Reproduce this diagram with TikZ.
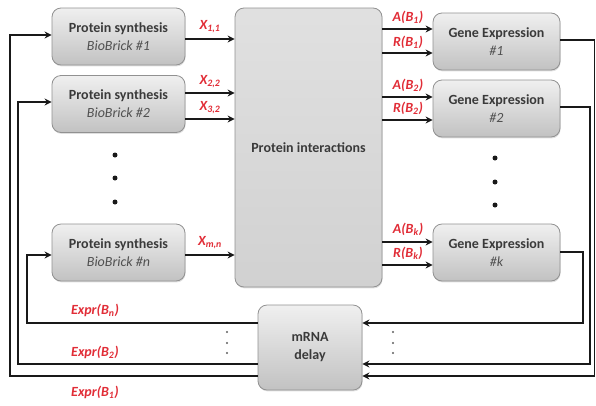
\documentclass[tikz,border=0pt]{standalone}
\usepackage{fontspec}
\setmainfont{Carlito}
\usetikzlibrary{arrows.meta,shadows}
\definecolor{lbl}{RGB}{225,45,55}
\definecolor{txt}{RGB}{58,58,58}
\definecolor{txtb}{RGB}{80,80,80}
\definecolor{edge}{RGB}{145,145,145}
\definecolor{ln}{RGB}{25,25,25}
\begin{document}
\begin{tikzpicture}[x=1pt,y=-1pt,
  box/.style={draw=edge, line width=0.8pt, rounded corners=9pt,
    top color=white!94!black, bottom color=white!76!black,
    align=center, text=txt, inner sep=0pt,
    font=\fontsize{14}{18}\selectfont\bfseries,
    drop shadow={shadow xshift=0.6pt, shadow yshift=-1.4pt, opacity=0.25}},
  psbox/.style={box, minimum width=133pt, minimum height=57pt},
  gebox/.style={box, minimum width=127pt, minimum height=57pt},
  lab/.style={text=lbl, inner sep=0pt, font=\fontsize{14}{16}\selectfont\bfseries\itshape},
  sub/.style={font=\mdseries\itshape\color{txtb}},
  wire/.style={draw=ln, line width=1.6pt},
  arr/.style={wire, -{Stealth[length=7pt,width=7pt]}}
]
\useasboundingbox (0,0) rectangle (596,405);

% protein synthesis blocks
\node[psbox] (ps1) at (118.5,36.5) {Protein synthesis\\{\mdseries\itshape\color{txtb}BioBrick \#1}};
\node[psbox] (ps2) at (118.5,104) {Protein synthesis\\{\mdseries\itshape\color{txtb}BioBrick \#2}};
\node[psbox] (psn) at (118.5,252.5) {Protein synthesis\\{\mdseries\itshape\color{txtb}BioBrick \#n}};

% protein interactions
\node[box, minimum width=147pt, minimum height=279pt,
  top color=white!88!black, bottom color=white!82!black] (pi) at (308.5,147.5) {Protein interactions};

% gene expression blocks
\node[gebox] (ge1) at (496.5,41.5) {Gene Expression\\{\mdseries\itshape\color{txtb}\#1}};
\node[gebox] (ge2) at (496.5,108.5) {Gene Expression\\{\mdseries\itshape\color{txtb}\#2}};
\node[gebox] (gek) at (496.5,252.5) {Gene Expression\\{\mdseries\itshape\color{txtb}\#k}};

% mRNA delay
\node[box, minimum width=104pt, minimum height=85pt] (md) at (310,347.5) {mRNA\\delay};

% vertical ellipses between blocks
\foreach \y in {155,178,202} \fill[ln] (115,\y) circle (2.5pt);
\foreach \y in {158,182,205} \fill[ln] (495,\y) circle (2.5pt);
\foreach \y in {332,343,353} {
  \fill[ln!70] (227,\y) circle (1.1pt);
  \fill[ln!70] (393,\y) circle (1.1pt);
}

% synthesis outputs
\draw[arr] (ps1.east |- 0,39) -- (pi.west |- 0,39);
\draw[arr] (ps2.east |- 0,93) -- (pi.west |- 0,93);
\draw[arr] (ps2.east |- 0,119) -- (pi.west |- 0,119);
\draw[arr] (psn.east |- 0,255) -- (pi.west |- 0,255);
\node[lab] (x11) at (210,27) {X\textsubscript{1,1}};
\node[lab] (x22) at (210,82) {X\textsubscript{2,2}};
\node[lab] (x32) at (210,108) {X\textsubscript{3,2}};
\node[lab] (xmn) at (210,243) {X\textsubscript{m,n}};

% activators and repressors
\draw[arr] (pi.east |- 0,29) -- (ge1.west |- 0,29);
\draw[arr] (pi.east |- 0,53) -- (ge1.west |- 0,53);
\draw[arr] (pi.east |- 0,97) -- (ge2.west |- 0,97);
\draw[arr] (pi.east |- 0,120) -- (ge2.west |- 0,120);
\draw[arr] (pi.east |- 0,242) -- (gek.west |- 0,242);
\draw[arr] (pi.east |- 0,265) -- (gek.west |- 0,265);
\node[lab] (a1) at (408,17) {A(B\textsubscript{1})};
\node[lab] (r1) at (408,42) {R(B\textsubscript{1})};
\node[lab] (a2) at (408,85) {A(B\textsubscript{2})};
\node[lab] (r2) at (408,108) {R(B\textsubscript{2})};
\node[lab] (ak) at (408,229) {A(B\textsubscript{k})};
\node[lab] (rk) at (408,253) {R(B\textsubscript{k})};

% expression feedback into the delay
\draw[arr] (ge1.east |- 0,40) -- (594.5,40) -- (594.5,376) -- (md.east |- 0,376);
\draw[arr] (ge2.east |- 0,107) -- (590,107) -- (590,364) -- (md.east |- 0,364);
\draw[arr] (gek.east |- 0,252) -- (583,252) -- (583,323) -- (md.east |- 0,323);

% delayed expression back to synthesis
\draw[arr] (md.west |- 0,323) -- (27,323) -- (27,255) -- (psn.west |- 0,255);
\draw[arr] (md.west |- 0,364) -- (18,364) -- (18,102) -- (ps2.west |- 0,102);
\draw[arr] (md.west |- 0,376) -- (10,376) -- (10,35) -- (ps1.west |- 0,35);
\node[lab] (en) at (95,310) {Expr(B\textsubscript{n})};
\node[lab] (e2) at (95,352) {Expr(B\textsubscript{2})};
\node[lab] (e1) at (95,392) {Expr(B\textsubscript{1})};
\end{tikzpicture}
\end{document}
